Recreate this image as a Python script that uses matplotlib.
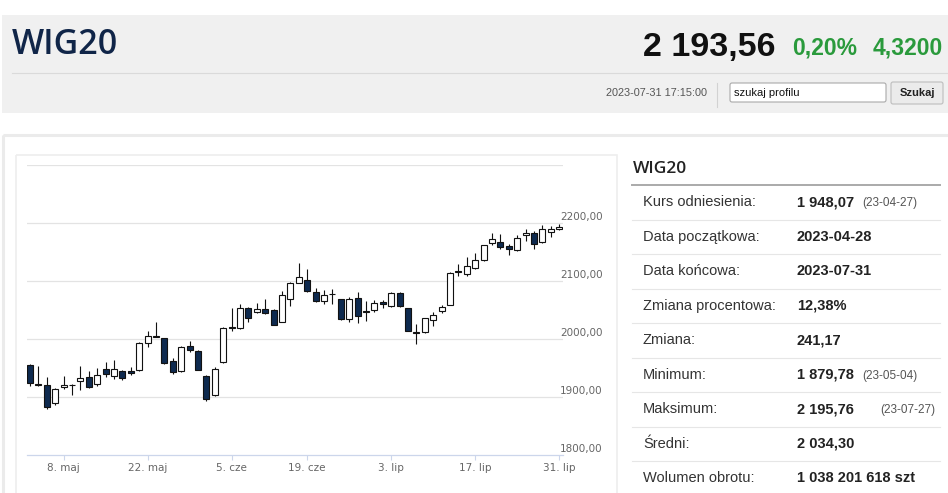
import matplotlib
matplotlib.use("Agg")
import matplotlib.pyplot as plt
from matplotlib.patches import Rectangle, FancyBboxPatch

# --- data ---
open_ = [1954.4, 1922.0, 1920.4, 1888.9, 1918.0, 1920.0, 1926.9, 1935.0, 1922.0, 1948.5,
         1935.6, 1945.6, 1944.4, 1946.8, 1992.4, 2004.7, 2001.0, 1962.9, 1944.0, 1987.4,
         1980.0, 1936.0, 1902.9, 1960.0, 2020.5, 2018.3, 2053.0, 2045.7, 2051.4, 2050.3,
         2029.7, 2069.7, 2097.0, 2101.7, 2081.7, 2065.7, 2077.5, 2068.6, 2034.3, 2071.4,
         2047.5, 2050.3, 2064.0, 2057.0, 2080.0, 2053.0, 2011.8, 2011.4, 2033.0, 2048.8,
         2059.3, 2116.5, 2111.6, 2122.0, 2136.0, 2165.1, 2166.9, 2160.5, 2153.5, 2178.5,
         2182.6, 2166.9, 2184.3, 2190.0]
high = [1957.0, 1954.0, 1933.9, 1915.0, 1936.8, 1922.0, 1954.0, 1945.6, 1950.0, 1960.0,
        1963.0, 1947.0, 1951.4, 1995.0, 2014.6, 2028.7, 2002.0, 1966.9, 1987.4, 1997.0,
        1981.7, 1938.3, 1951.4, 2020.0, 2054.3, 2061.0, 2055.4, 2061.7, 2068.6, 2051.4,
        2082.9, 2098.3, 2131.4, 2120.0, 2088.6, 2084.6, 2086.9, 2069.7, 2073.0, 2081.7,
        2065.7, 2067.4, 2067.4, 2081.0, 2080.5, 2054.3, 2025.7, 2037.0, 2045.7, 2059.3,
        2115.0, 2130.0, 2141.9, 2147.7, 2162.8, 2182.6, 2180.2, 2164.0, 2178.5, 2190.0,
        2186.0, 2195.76, 2195.0, 2199.0]
low = [1919.0, 1919.0, 1879.78, 1886.0, 1913.0, 1903.5, 1912.0, 1915.0, 1919.0, 1934.0,
       1931.0, 1930.0, 1938.6, 1945.6, 1986.5, 2003.0, 1957.0, 1940.0, 1942.9, 1977.0,
       1945.7, 1892.6, 1901.7, 1958.9, 2014.3, 2017.0, 2028.6, 2044.6, 2042.9, 2024.0,
       2028.6, 2057.0, 2096.0, 2081.7, 2064.6, 2061.0, 2060.0, 2033.0, 2029.7, 2026.9,
       2031.4, 2046.9, 2054.3, 2056.0, 2056.0, 2013.0, 1991.4, 2010.0, 2022.9, 2044.8,
       2058.0, 2108.7, 2108.7, 2120.3, 2134.9, 2162.8, 2155.2, 2145.3, 2152.3, 2169.8,
       2155.2, 2165.7, 2176.7, 2188.4]
close = [1923.4, 1921.0, 1882.4, 1913.4, 1920.5, 1920.5, 1932.7, 1917.5, 1938.6, 1939.7,
         1948.5, 1932.7, 1941.0, 1993.6, 2005.3, 2003.5, 1958.5, 1942.9, 1985.7, 1981.7,
         1947.4, 1897.1, 1948.6, 2018.3, 2019.8, 2052.6, 2036.0, 2051.4, 2044.6, 2024.6,
         2075.4, 2097.1, 2107.4, 2082.9, 2065.7, 2075.4, 2076.8, 2034.3, 2068.6, 2040.0,
         2046.8, 2061.7, 2060.0, 2078.9, 2057.0, 2014.3, 2011.0, 2035.4, 2041.0, 2054.7,
         2114.5, 2116.0, 2126.2, 2136.0, 2162.2, 2172.7, 2159.3, 2155.2, 2173.8, 2182.6,
         2164.0, 2190.1, 2190.1, 2193.56]

tick_idx = [4, 14, 24, 33, 43, 53, 63]
tick_lab = ["8. maj", "22. maj", "5. cze", "19. cze", "3. lip", "17. lip", "31. lip"]
y_levels = [1800, 1900, 2000, 2100, 2200]
y_labels = ["1800,00", "1900,00", "2000,00", "2100,00", "2200,00"]

row_names = ["Kurs odniesienia:", "Data początkowa:", "Data końcowa:", "Zmiana procentowa:",
             "Zmiana:", "Minimum:", "Maksimum:", "Średni:", "Wolumen obrotu:"]
row_vals = ["1 948,07", "2023-04-28", "2023-07-31", "12,38%", "241,17",
            "1 879,78", "2 195,76", "2 034,30", "1 038 201 618 szt"]
row_notes = ["(23-04-27)", "", "", "", "", "(23-05-04)", "(23-07-27)", "", ""]

W, H = 948, 493
fig = plt.figure(figsize=(W / 100, H / 100), dpi=100)
fig.patch.set_facecolor("white")

# page layer in pixel coordinates
bg = fig.add_axes([0, 0, 1, 1])
bg.set_xlim(0, W)
bg.set_ylim(H, 0)
bg.axis("off")

# header box
bg.add_patch(Rectangle((2, 15), 946, 98, facecolor="#f0f0f0", edgecolor="none"))
bg.plot([12, 948], [72.5, 72.5], color="#dadada", lw=0.8)
bg.plot([717, 717], [83, 107], color="#d2d2d2", lw=0.8)
bg.text(12, 53.5, "WIG20", fontsize=24.5, family="Open Sans", weight="semibold",
        color="#102548", va="baseline")
bg.text(776, 56, "2 193,56", fontsize=24.5, family="Liberation Sans", weight="bold",
        color="#111111", va="baseline", ha="right")
bg.text(792, 55, "0,20%", fontsize=16.5, family="Liberation Sans", weight="bold",
        color="#2a9a3c", va="baseline")
bg.text(873, 55, "4,3200", fontsize=16.5, family="Liberation Sans", weight="bold",
        color="#2a9a3c", va="baseline")
bg.text(707, 93, "2023-07-31 17:15:00", fontsize=7.8, family="Liberation Sans",
        color="#555555", va="center", ha="right")
bg.add_patch(FancyBboxPatch((730, 83), 156, 19, boxstyle="round,pad=0,rounding_size=2",
                            facecolor="white", edgecolor="#a9a9a9", lw=0.8))
bg.text(734, 92.5, "szukaj profilu", fontsize=8, family="Liberation Sans",
        color="#111111", va="center")
bg.add_patch(FancyBboxPatch((891, 82), 52, 22, boxstyle="round,pad=0,rounding_size=2",
                            facecolor="#ebebeb", edgecolor="#bdbdbd", lw=0.8))
bg.text(917, 93, "Szukaj", fontsize=8, family="Liberation Sans", weight="bold",
        color="#222222", va="center", ha="center")

# outer panel and chart frame
bg.add_patch(Rectangle((3, 134.5), 960, 400, facecolor="none", edgecolor="#ebebeb", lw=2.2))
bg.add_patch(Rectangle((16, 155), 601, 400, facecolor="none", edgecolor="#eeeeee", lw=1.2))

# table
bg.text(633, 173, "WIG20", fontsize=12.5, family="Open Sans", weight="semibold",
        color="#222222", va="baseline")
bg.plot([632, 940], [185, 185], color="#aaaaaa", lw=1.4)
row_h = 34.5
for i, (n, v, note) in enumerate(zip(row_names, row_vals, row_notes)):
    yc = 185 + row_h * (i + 0.5)
    bg.text(643, yc, n, fontsize=10.5, family="Liberation Sans", color="#333333", va="center")
    bg.text(797, yc, v, fontsize=10.5, family="Liberation Sans", weight="bold",
            color="#222222", va="center")
    if note:
        nx = 880 if i == 6 else 862
        bg.text(nx, yc + 1, note, fontsize=8.5, family="Liberation Sans",
                color="#555555", va="center")
    if i < len(row_names) - 1:
        bg.plot([632, 940], [185 + row_h * (i + 1)] * 2, color="#e6e6e6", lw=0.8)

# candlestick chart
x0, x1 = 26.5, 563
yb, yt = 455, 165
ax = fig.add_axes([x0 / W, 1 - yb / H, (x1 - x0) / W, (yb - yt) / H])
ax.patch.set_alpha(0)
ax.set_xlim(-0.42, 63.45)
ax.set_ylim(1800, 2300)

for lev in [1900, 2000, 2100, 2200, 2300]:
    ax.axhline(lev, color="#e3e3e3", lw=0.9, zorder=0)

dark = "#0e2a4f"
bw = 0.72
for i in range(len(close)):
    o, h, l, c = open_[i], high[i], low[i], close[i]
    ax.vlines(i, l, h, color="#111111", lw=0.8, zorder=2)
    bot = min(o, c)
    ht = max(abs(c - o), 0.8)
    face = "white" if c > o else dark
    ax.bar(i, ht, bottom=bot, width=bw, color=face, edgecolor="#111111",
           linewidth=0.8, zorder=3)

for lev, lab in zip(y_levels, y_labels):
    ax.text(0.9944, lev + 2.5, lab, transform=ax.get_yaxis_transform(), fontsize=7.5,
            color="#666666", va="bottom", ha="left", clip_on=False)

for s in ["top", "right", "left"]:
    ax.spines[s].set_visible(False)
ax.spines["bottom"].set_color("#ccd6eb")
ax.spines["bottom"].set_linewidth(0.9)
ax.set_yticks([])
ax.set_xticks(tick_idx)
ax.set_xticklabels(tick_lab)
ax.tick_params(axis="x", length=3.6, width=0.8, color="#ccd6eb", labelsize=7.5,
               labelcolor="#666666", pad=2)

fig.savefig("out.png", dpi=100)
